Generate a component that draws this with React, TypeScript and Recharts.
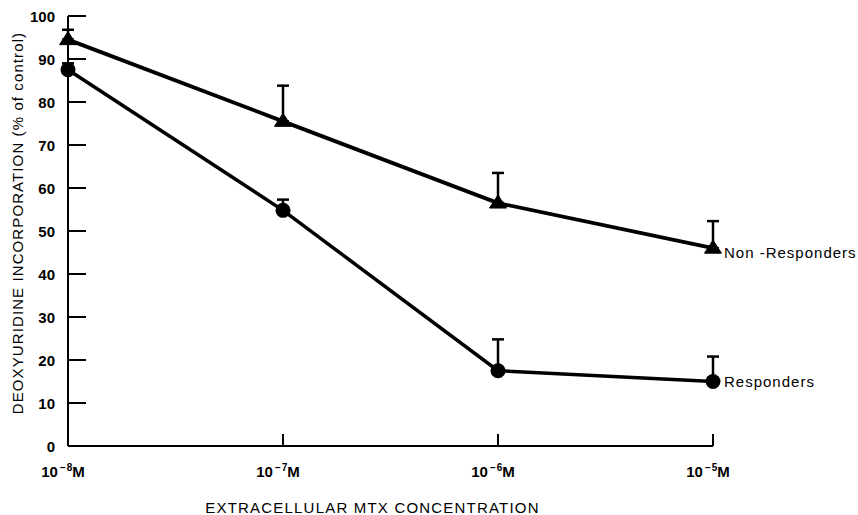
import React from 'react';
import { LineChart, Line, XAxis, YAxis, ErrorBar, Label, LabelList } from 'recharts';

// values
const exponents = [-8, -7, -6, -5];
const xTickExponents = ['8', '7', '6', '5'];
const nonResponders = [94.5, 75.5, 56.5, 46];
const nonResponderSem = [2.3, 8.3, 7, 6.3];
const responders = [87.5, 54.8, 17.5, 15];
const responderSem = [1.5, 2.5, 7.3, 5.8];
const yTicks = [0, 10, 20, 30, 40, 50, 60, 70, 80, 90, 100];
const seriesNames = ['Non -Responders', 'Responders'];

const last = exponents.length - 1;
const data = exponents.map((e, i) => ({
  exp: e,
  non: nonResponders[i],
  nonErr: [0, nonResponderSem[i]],
  nonName: i === last ? seriesNames[0] : '',
  resp: responders[i],
  respErr: [0, responderSem[i]],
  respName: i === last ? seriesNames[1] : '',
}));

const FONT = '"Liberation Sans", Arial, Helvetica, sans-serif';
const TICK_GAP = 13;

const XTick = (props: any) => {
  const { x, y, payload } = props;
  const idx = exponents.indexOf(payload.value);
  const axisY = y - TICK_GAP;
  return (
    <g>
      <line x1={x} y1={axisY} x2={x} y2={axisY - 12} stroke="#000" strokeWidth={2} />
      <text x={x - 5} y={axisY + 31} textAnchor="middle" fontFamily={FONT} fontSize={15} fontWeight="bold" fill="#000">
        <tspan>10</tspan>
        <tspan dx={2} dy={-6} fontSize={10}>−</tspan>
        <tspan dx={1} fontSize={10}>{xTickExponents[idx]}</tspan>
        <tspan dy={6}>M</tspan>
      </text>
    </g>
  );
};

const YTick = (props: any) => {
  const { x, y, payload } = props;
  const axisX = x + TICK_GAP;
  return (
    <g>
      <line x1={axisX} y1={y} x2={axisX + 18} y2={y} stroke="#000" strokeWidth={2} />
      <text x={x} y={y} textAnchor="end" dominantBaseline="central" fontFamily={FONT} fontSize={15} fontWeight="bold" fill="#000">
        {payload.value}
      </text>
    </g>
  );
};

const TriangleDot = (props: any) => {
  const { cx, cy, index } = props;
  if (cx == null || cy == null) return null;
  return (
    <path
      key={`tri-${index}`}
      d={`M${cx},${cy - 8} L${cx + 8.5},${cy + 5} L${cx - 8.5},${cy + 5} Z`}
      fill="#000"
      stroke="#000"
      strokeWidth={1}
    />
  );
};

const CircleDot = (props: any) => {
  const { cx, cy, index } = props;
  if (cx == null || cy == null) return null;
  return <circle key={`dot-${index}`} cx={cx} cy={cy} r={7.5} fill="#000" />;
};

const EndName = (dy: number) => (props: any) => {
  const { x, y, value } = props;
  if (!value) return null;
  return (
    <text x={x + 11} y={y + dy} dominantBaseline="central" fontFamily={FONT} fontSize={15} letterSpacing={1} fill="#000">
      {value}
    </text>
  );
};

export default function App() {
  return (
    <div style={{ position: 'absolute', left: 0, top: 0, width: 858, height: 515, background: '#fff' }}>
      <LineChart width={858} height={515} data={data} margin={{ top: 16, right: 145, left: 8, bottom: 9 }}>
        <XAxis
          dataKey="exp"
          type="number"
          domain={[-8, -5]}
          ticks={exponents}
          interval={0}
          height={60}
          tickSize={0}
          tickMargin={TICK_GAP}
          tick={<XTick />}
          axisLine={{ stroke: '#000', strokeWidth: 2 }}
        >
          <Label
            content={({ viewBox }: any) => (
              <text
                x={viewBox.x + viewBox.width / 2 - 18}
                y={513}
                textAnchor="middle"
                fontFamily={FONT}
                fontSize={15}
                letterSpacing={1.2}
                fill="#000"
              >
                EXTRACELLULAR MTX CONCENTRATION
              </text>
            )}
          />
        </XAxis>
        <YAxis
          type="number"
          domain={[0, 100]}
          ticks={yTicks}
          interval={0}
          width={60}
          tickSize={0}
          tickMargin={TICK_GAP}
          tick={<YTick />}
          axisLine={{ stroke: '#000', strokeWidth: 2 }}
        >
          <Label
            content={({ viewBox }: any) => {
              const cy = viewBox.y + viewBox.height / 2 - 8;
              return (
                <text
                  x={17}
                  y={cy}
                  transform={`rotate(-90, 17, ${cy})`}
                  textAnchor="middle"
                  dominantBaseline="central"
                  fontFamily={FONT}
                  fontSize={15}
                  letterSpacing={1.1}
                  fill="#000"
                >
                  DEOXYURIDINE INCORPORATION (% of control)
                </text>
              );
            }}
          />
        </YAxis>
        <Line
          dataKey="non"
          type="linear"
          stroke="#000"
          strokeWidth={3.8}
          dot={(p: any) => <TriangleDot key={`t-${p.index}`} {...p} />}
          isAnimationActive={false}
        >
          <ErrorBar dataKey="nonErr" width={6} stroke="#000" strokeWidth={2.5} direction="y" />
          <LabelList dataKey="nonName" content={EndName(4)} />
        </Line>
        <Line
          dataKey="resp"
          type="linear"
          stroke="#000"
          strokeWidth={3.5}
          dot={(p: any) => <CircleDot key={`c-${p.index}`} {...p} />}
          isAnimationActive={false}
        >
          <ErrorBar dataKey="respErr" width={6} stroke="#000" strokeWidth={2.5} direction="y" />
          <LabelList dataKey="respName" content={EndName(0)} />
        </Line>
      </LineChart>
    </div>
  );
}
